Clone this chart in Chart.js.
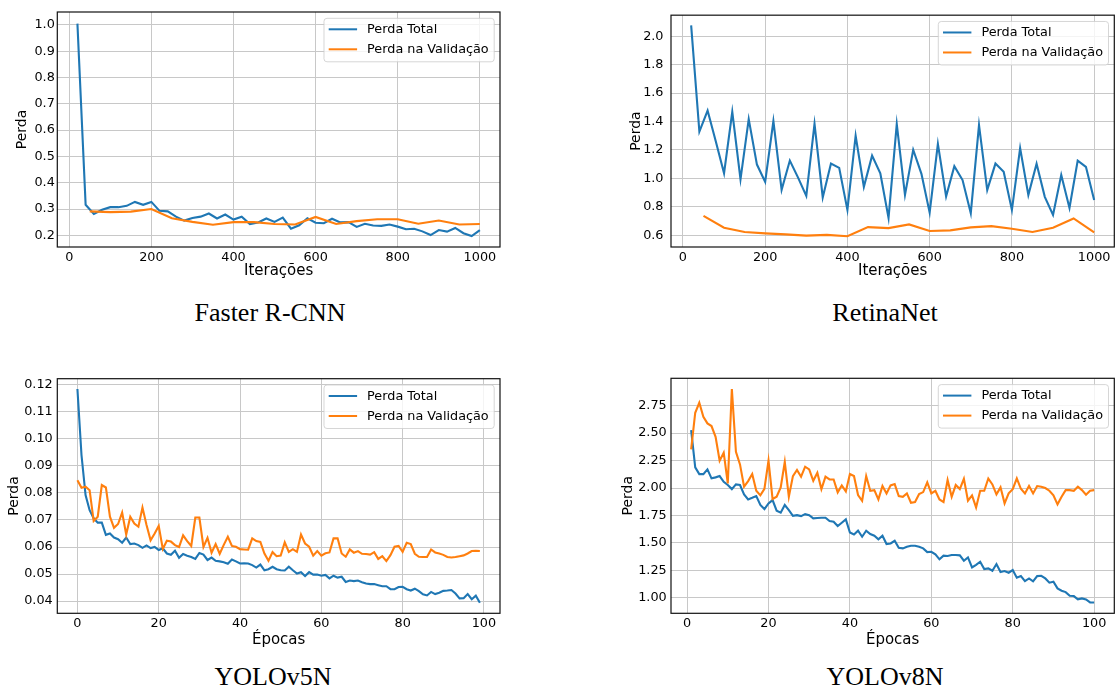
<!DOCTYPE html>
<html><head><meta charset="utf-8">
<script src="https://cdn.jsdelivr.net/npm/chart.js@4.4.0/dist/chart.umd.min.js"></script>
<style>
html,body{margin:0;padding:0;background:#fff;width:1116px;height:691px;overflow:hidden;position:relative}
canvas{position:absolute}
.cap{position:absolute;font-family:"Liberation Serif","Times New Roman",serif;font-size:26px;color:#000;white-space:nowrap;transform:translateX(-50%);line-height:1}
</style></head><body>
<canvas id="c1" width="540" height="292" style="left:0;top:0"></canvas>
<canvas id="c2" width="516" height="292" style="left:600px;top:0"></canvas>
<canvas id="c3" width="540" height="300" style="left:0;top:360px"></canvas>
<canvas id="c4" width="516" height="300" style="left:600px;top:360px"></canvas>
<div class="cap" style="left:270px;top:300px">Faster R-CNN</div>
<div class="cap" style="left:885px;top:300px">RetinaNet</div>
<div class="cap" style="left:273px;top:664px">YOLOv5N</div>
<div class="cap" style="left:885px;top:664px">YOLOv8N</div>
<script>
// ---------- DATA ----------
const seriesNames = ['Perda Total', 'Perda na Validação'];

const fasterIter = [20,40,60,80,100,120,140,160,180,200,220,240,260,280,300,320,340,360,380,400,420,440,460,480,500,520,540,560,580,600,620,640,660,680,700,720,740,760,780,800,820,840,860,880,900,920,940,960,980,1000];
const fasterTotal = [1.005,0.316,0.281,0.297,0.307,0.307,0.312,0.327,0.316,0.327,0.293,0.291,0.271,0.256,0.266,0.271,0.283,0.264,0.279,0.26,0.271,0.243,0.249,0.264,0.251,0.267,0.225,0.238,0.265,0.248,0.246,0.263,0.249,0.25,0.232,0.244,0.237,0.236,0.241,0.233,0.223,0.225,0.215,0.201,0.22,0.214,0.228,0.208,0.197,0.22];
const fasterValIter = [50,100,150,200,250,300,350,400,450,500,550,600,650,700,750,800,850,900,950,1000];
const fasterVal = [0.291,0.288,0.29,0.3,0.265,0.251,0.24,0.25,0.25,0.243,0.241,0.27,0.243,0.254,0.261,0.261,0.244,0.256,0.241,0.243];

const retinaIter = [20,40,60,80,100,120,140,160,180,200,220,240,260,280,300,320,340,360,380,400,420,440,460,480,500,520,540,560,580,600,620,640,660,680,700,720,740,760,780,800,820,840,860,880,900,920,940,960,980,1000];
const retinaTotal = [2.076,1.329,1.477,1.259,1.035,1.468,0.993,1.417,1.097,0.975,1.403,0.919,1.125,1.005,0.877,1.384,0.866,1.104,1.074,0.778,1.3,0.94,1.16,1.035,0.722,1.382,0.884,1.201,1.032,0.759,1.243,0.873,1.086,0.988,0.755,1.375,0.917,1.104,1.046,0.778,1.213,0.882,1.102,0.87,0.743,1.023,0.792,1.125,1.081,0.847];
const retinaValIter = [50,100,150,200,250,300,350,400,450,500,550,600,650,700,750,800,850,900,950,1000];
const retinaVal = [0.736,0.653,0.623,0.613,0.606,0.597,0.602,0.593,0.657,0.65,0.676,0.63,0.634,0.655,0.664,0.646,0.623,0.653,0.718,0.62];

const yolo5Epoch = [0,1,2,3,4,5,6,7,8,9,10,11,12,13,14,15,16,17,18,19,20,21,22,23,24,25,26,27,28,29,30,31,32,33,34,35,36,37,38,39,40,41,42,43,44,45,46,47,48,49,50,51,52,53,54,55,56,57,58,59,60,61,62,63,64,65,66,67,68,69,70,71,72,73,74,75,76,77,78,79,80,81,82,83,84,85,86,87,88,89,90,91,92,93,94,95,96,97,98,99];
const yolo5Total = [0.1184,0.094,0.0792,0.0736,0.0706,0.069,0.069,0.0645,0.065,0.0635,
  0.0629,0.0616,0.0635,0.0611,0.0613,0.0607,0.0597,0.0606,0.0596,0.06,
  0.0589,0.0595,0.0576,0.0571,0.0586,0.056,0.0574,0.0568,0.0563,0.0556,
  0.0578,0.0572,0.0552,0.0561,0.0549,0.0547,0.0544,0.0538,0.0554,0.0547,
  0.0539,0.054,0.0539,0.0533,0.0524,0.0535,0.0514,0.0518,0.0527,0.0518,
  0.0514,0.0513,0.0527,0.0514,0.0502,0.0507,0.0493,0.0507,0.0498,0.0498,
  0.0494,0.0497,0.0484,0.0494,0.0487,0.049,0.0471,0.0476,0.0474,0.0476,
  0.047,0.0465,0.0463,0.0463,0.0459,0.0455,0.0455,0.0444,0.0444,0.0452,
  0.0453,0.0444,0.0439,0.0446,0.0437,0.0425,0.0421,0.0434,0.0426,0.0431,
  0.0438,0.0439,0.0441,0.0428,0.041,0.0411,0.0426,0.0407,0.042,0.0394];
const yolo5Val = [0.0847,0.0819,0.0823,0.081,0.0696,0.0712,0.0829,0.082,0.0712,0.0671,
  0.0685,0.0727,0.0646,0.0712,0.0687,0.0675,0.0746,0.0681,0.0625,0.065,
  0.0678,0.0593,0.0623,0.062,0.0607,0.06,0.0643,0.0622,0.0604,0.0709,
  0.0709,0.06,0.0634,0.0579,0.0611,0.0575,0.0608,0.0638,0.0604,0.0601,
  0.0592,0.0591,0.059,0.0632,0.0622,0.0619,0.0576,0.0549,0.0581,0.0566,
  0.0568,0.0617,0.0582,0.0592,0.0582,0.0646,0.0613,0.0601,0.0568,0.0585,
  0.0568,0.0577,0.058,0.0632,0.0632,0.0576,0.0564,0.0591,0.0579,0.0585,
  0.0575,0.0574,0.0572,0.0581,0.0556,0.0566,0.0548,0.057,0.0601,0.0604,
  0.0582,0.0616,0.0611,0.0575,0.0564,0.0563,0.0563,0.0591,0.058,0.0576,
  0.0571,0.0563,0.0561,0.0563,0.0566,0.0569,0.0576,0.0585,0.0586,0.0585];

const yolo8Epoch = [1,2,3,4,5,6,7,8,9,10,11,12,13,14,15,16,17,18,19,20,21,22,23,24,25,26,27,28,29,30,31,32,33,34,35,36,37,38,39,40,41,42,43,44,45,46,47,48,49,50,51,52,53,54,55,56,57,58,59,60,61,62,63,64,65,66,67,68,69,70,71,72,73,74,75,76,77,78,79,80,81,82,83,84,85,86,87,88,89,90,91,92,93,94,95,96,97,98,99,100];
const yolo8Total = [2.528,2.188,2.127,2.127,2.17,2.088,2.097,2.109,2.057,2.027,
  1.99,2.033,2.027,1.942,1.896,1.911,1.927,1.845,1.808,1.86,
  1.89,1.793,1.775,1.845,1.799,1.747,1.753,1.744,1.762,1.753,
  1.723,1.726,1.729,1.729,1.699,1.693,1.653,1.683,1.714,1.595,
  1.577,1.611,1.556,1.611,1.58,1.565,1.532,1.565,1.489,1.495,
  1.519,1.456,1.45,1.465,1.474,1.474,1.465,1.45,1.416,1.419,
  1.395,1.35,1.383,1.38,1.389,1.389,1.386,1.337,1.367,1.276,
  1.3,1.328,1.261,1.267,1.246,1.307,1.234,1.243,1.228,1.252,
  1.182,1.197,1.152,1.176,1.149,1.197,1.2,1.176,1.137,1.146,
  1.085,1.064,1.051,1.018,1.015,0.985,0.994,0.985,0.957,0.957];
const yolo8Val = [2.352,2.686,2.777,2.65,2.589,2.565,2.467,2.249,2.322,2.042,
  2.902,2.331,2.215,2.012,2.063,2.127,1.975,1.933,1.993,2.249,
  1.9,1.92,2.006,2.237,1.92,2.109,2.164,2.103,2.194,2.17,
  2.066,2.139,1.99,2.103,2.078,2.078,1.96,2.024,1.969,2.127,
  2.109,1.936,1.884,2.109,1.975,1.981,1.896,2.018,1.951,2.024,
  2.036,1.927,1.92,1.951,1.866,1.872,1.945,1.963,2.051,1.951,
  1.975,1.896,1.872,2.072,1.92,2.027,1.99,2.084,1.884,1.933,
  1.823,1.975,1.975,2.087,2.033,1.942,2.006,1.86,1.951,1.99,
  2.087,1.993,1.951,2.018,1.951,2.018,2.012,2.0,1.975,1.933,
  1.851,1.92,1.981,1.981,1.975,2.012,1.981,1.939,1.975,1.981];

// tick values and labels
const iterTicks = [0,200,400,600,800,1000];
const iterTickLabels = ['0','200','400','600','800','1000'];
const epochTicks = [0,20,40,60,80,100];
const epochTickLabels = ['0','20','40','60','80','100'];
const fasterYTicks = [0.2,0.3,0.4,0.5,0.6,0.7,0.8,0.9,1.0];
const fasterYLabels = ['0.2','0.3','0.4','0.5','0.6','0.7','0.8','0.9','1.0'];
const retinaYTicks = [0.6,0.8,1.0,1.2,1.4,1.6,1.8,2.0];
const retinaYLabels = ['0.6','0.8','1.0','1.2','1.4','1.6','1.8','2.0'];
const yolo5YTicks = [0.04,0.05,0.06,0.07,0.08,0.09,0.10,0.11,0.12];
const yolo5YLabels = ['0.04','0.05','0.06','0.07','0.08','0.09','0.10','0.11','0.12'];
const yolo8YTicks = [1.00,1.25,1.50,1.75,2.00,2.25,2.50,2.75];
const yolo8YLabels = ['1.00','1.25','1.50','1.75','2.00','2.25','2.50','2.75'];

// ---------- RENDER ----------
Chart.defaults.font.family = '"DejaVu Sans", sans-serif';
Chart.defaults.color = '#000';

const frame = {
  id: 'frame',
  afterDatasetsDraw(chart) {
    const {ctx, chartArea: a} = chart;
    ctx.save();
    ctx.strokeStyle = '#111';
    ctx.lineWidth = 1.2;
    ctx.strokeRect(a.left, a.top, a.right - a.left, a.bottom - a.top);
    ctx.restore();
  }
};

const mplLegend = {
  id: 'mplLegend',
  afterDraw(chart) {
    const {ctx, chartArea: a} = chart;
    const ds = chart.data.datasets;
    ctx.save();
    ctx.font = '12.8px "DejaVu Sans"';
    let tw = 0;
    ds.forEach(d => { tw = Math.max(tw, ctx.measureText(d.label).width); });
    const w = 4.7 + 28.4 + 10 + tw + 5.5;
    const h = 43.5;
    const x = a.right - 5.8 - w;
    const y = a.top + 6.3;
    ctx.beginPath();
    ctx.roundRect(x, y, w, h, 3);
    ctx.fillStyle = 'rgba(255,255,255,0.8)';
    ctx.fill();
    ctx.strokeStyle = 'rgba(204,204,204,0.8)';
    ctx.lineWidth = 1;
    ctx.stroke();
    ds.forEach((d, i) => {
      const ry = y + 11 + i * 20;
      ctx.beginPath();
      ctx.moveTo(x + 4.7, ry);
      ctx.lineTo(x + 33.1, ry);
      ctx.strokeStyle = d.borderColor;
      ctx.lineWidth = 2;
      ctx.stroke();
      ctx.fillStyle = '#000';
      ctx.textBaseline = 'middle';
      ctx.textAlign = 'left';
      ctx.fillText(d.label, x + 43.1, ry + 0.5);
    });
    ctx.restore();
  }
};

function pts(xs, ys) { return xs.map((x, i) => ({x: x, y: ys[i]})); }

function makeChart(id, cfg) {
  const c = document.getElementById(id);
  return new Chart(c, {
    type: 'line',
    data: {datasets: [
      {label: seriesNames[0], data: pts(cfg.tx, cfg.ty), borderColor: '#1f77b4', backgroundColor: '#1f77b4', borderWidth: 2.1, pointRadius: 0, tension: 0, order: 2},
      {label: seriesNames[1], data: pts(cfg.vx, cfg.vy), borderColor: '#ff7f0e', backgroundColor: '#ff7f0e', borderWidth: 2.1, pointRadius: 0, tension: 0, order: 1}
    ]},
    options: {
      responsive: false, animation: false, events: [],
      layout: {padding: {top: cfg.padTop, right: cfg.padRight, left: 0, bottom: 0}},
      plugins: {legend: {display: false}, tooltip: {enabled: false}},
      scales: {
        x: {
          type: 'linear', min: cfg.xMin, max: cfg.xMax,
          afterBuildTicks: s => { s.ticks = cfg.xTicks.map(v => ({value: v})); },
          afterFit: s => { s.height = cfg.xH; },
          ticks: {callback: (v, i) => cfg.xLabels[i], font: {size: 12.8}, padding: 3, color: '#000', maxRotation: 0, autoSkip: false},
          grid: {color: '#c8c8c8', lineWidth: 1, drawTicks: false},
          border: {display: false},
          title: {display: true, text: cfg.xTitle, font: {size: 15}, color: '#000', padding: {top: 0, bottom: cfg.xTitlePad}}
        },
        y: {
          type: 'linear', min: cfg.yMin, max: cfg.yMax,
          afterBuildTicks: s => { s.ticks = cfg.yTicks.map(v => ({value: v})); },
          afterFit: s => { s.width = cfg.yW; },
          ticks: {callback: (v, i) => cfg.yLabels[i], font: {size: 12.8}, padding: cfg.yTickPad, color: '#000', autoSkip: false},
          grid: {color: '#c8c8c8', lineWidth: 1, drawTicks: false},
          border: {display: false},
          title: {display: true, text: 'Perda', font: {size: 14}, color: '#000', padding: {top: cfg.yTitlePad, bottom: 0}}
        }
      }
    },
    plugins: [frame, mplLegend]
  });
}

makeChart('c1', {tx: fasterIter, ty: fasterTotal, vx: fasterValIter, vy: fasterVal,
  xMin: -29, xMax: 1049, yMin: 0.1555, yMax: 1.0494, xTicks: iterTicks, xLabels: iterTickLabels,
  yTicks: fasterYTicks, yLabels: fasterYLabels, xTitle: 'Iterações',
  padTop: 12, padRight: 40, xH: 45, yW: 57.3, yTickPad: 2.5, yTitlePad: 14.1, xTitlePad: 11.5});
makeChart('c2', {tx: retinaIter, ty: retinaTotal, vx: retinaValIter, vy: retinaVal,
  xMin: -29, xMax: 1049, yMin: 0.517, yMax: 2.148, xTicks: iterTicks, xLabels: iterTickLabels,
  yTicks: retinaYTicks, yLabels: retinaYLabels, xTitle: 'Iterações',
  padTop: 12, padRight: 1.7, xH: 45, yW: 71, yTickPad: 7.5, yTitlePad: 27.9, xTitlePad: 11.5});
makeChart('c3', {tx: yolo5Epoch, ty: yolo5Total, vx: yolo5Epoch, vy: yolo5Val,
  xMin: -4.95, xMax: 103.95, yMin: 0.0355, yMax: 0.1222, xTicks: epochTicks, xLabels: epochTickLabels,
  yTicks: yolo5YTicks, yLabels: yolo5YLabels, xTitle: 'Épocas',
  padTop: 18.7, padRight: 40, xH: 46.7, yW: 57.3, yTickPad: 4.6, yTitlePad: 5.8, xTitlePad: 10.8});
makeChart('c4', {tx: yolo8Epoch, ty: yolo8Total, vx: yolo8Epoch, vy: yolo8Val,
  xMin: -3.95, xMax: 104.95, yMin: 0.858, yMax: 3.0, xTicks: epochTicks, xLabels: epochTickLabels,
  yTicks: yolo8YTicks, yLabels: yolo8YLabels, xTitle: 'Épocas',
  padTop: 18.3, padRight: 1.7, xH: 46.7, yW: 71, yTickPad: 4.3, yTitlePad: 20.1, xTitlePad: 10.8});
</script>
</body></html>
